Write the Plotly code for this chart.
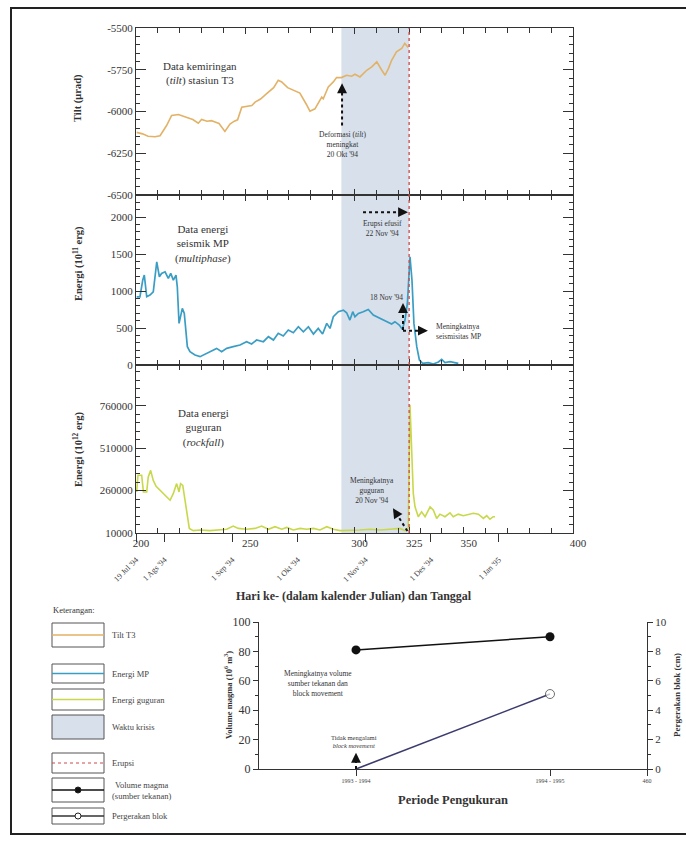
import plotly.graph_objects as go

W, H = 686, 843
FONT = "Liberation Serif"

# ---------------- data ----------------
tilt_day = [200.3, 203, 205.5, 208.7, 211, 214, 216.3, 219.4, 223, 226, 228.5, 230, 232.5, 234.5,
            236.5, 238, 240.7, 243, 245, 246.5, 248.4, 251, 253, 254.5, 257, 259.8, 263, 265.1,
            266.7, 269.4, 272.5, 275, 278, 279.6, 281.9, 285, 285.7, 288, 290.3, 291.8, 294,
            296.4, 298.7, 300.2, 302.5, 305.6, 307.9, 310.2, 312.5, 314, 315.5, 317, 319.2,
            321.6, 323, 324.5]
tilt_val = [-6125, -6134, -6148, -6151, -6145, -6084, -6024, -6018, -6034, -6048, -6070, -6048,
            -6058, -6055, -6064, -6072, -6119, -6075, -6058, -6050, -5974, -5970, -5964, -5944,
            -5925, -5893, -5857, -5813, -5823, -5857, -5873, -5890, -5958, -5998, -5984, -5914,
            -5924, -5853, -5823, -5797, -5797, -5783, -5789, -5777, -5793, -5753, -5733, -5703,
            -5753, -5783, -5743, -5693, -5643, -5623, -5592, -5616]

mp_day = [200.3, 201.8, 203.1, 203.8, 204.9, 206.4, 207.9, 209.5, 210.7, 211.7, 213.3, 214.8,
          215.9, 217.1, 218.3, 218.9, 219.7, 220.4, 221.2, 222.1, 223.5, 224.7, 227, 229.3,
          232.3, 234.6, 236.9, 239.2, 241.5, 244.5, 247.6, 250.6, 252.9, 255.2, 258.3, 260.6,
          262.9, 265.1, 267.4, 269.7, 272, 274.3, 276.6, 278.9, 281.2, 283.4, 285.4, 287.3,
          288.8, 290.3, 292.6, 294.9, 296.4, 297.9, 299.2, 300.2, 301.8, 304, 306.3, 308.6,
          311.7, 314.7, 317, 318.5, 320.5, 321.9, 323.1, 324.2, 325.4, 326.3, 327.2, 328.5,
          329.7, 331.2, 333.8, 336.1, 338.4, 339.9, 341.4, 343.7, 345.5, 347.5]
mp_val = [923, 923, 1149, 1216, 923, 946, 991, 1396, 1194, 1239, 1261, 1171,
          1239, 1149, 1216, 1058, 563, 653, 766, 698, 248, 180, 135, 113,
          158, 194, 225, 180, 225, 248, 270, 315, 284, 338, 315, 383,
          338, 428, 392, 473, 437, 518, 450, 518, 419, 495, 419, 563,
          495, 653, 721, 743, 707, 608, 721, 653, 698, 721, 752, 676,
          631, 586, 554, 586, 541, 482, 608, 833, 1464, 1149, 563, 248,
          68, 23, 32, 14, 41, 77, 32, 45, 32, 23]

rf_day = [200.3, 200.9, 202.6, 203.4, 204.9, 205.6, 206.7, 207.9, 209.2, 211, 213.3, 215.6,
          217.1, 218.6, 219.7, 220.4, 221.4, 222.4, 223.5, 224.4, 226.2, 229.3, 233.9, 238.4,
          241.5, 244.5, 246.8, 250.6, 254.5, 257.5, 260.6, 263.6, 266.7, 269, 272, 275.1,
          278.1, 281.2, 284.2, 287.3, 290.3, 293.4, 297.9, 302.5, 307.1, 311.7, 316.2, 320.8,
          323.1, 324.6, 325.4, 326.2, 326.9, 327.7, 329.2, 330.7, 332.3, 334.6, 336.1, 337.6,
          339.1, 341.4, 343.7, 345.2, 347.5, 349.8, 352.1, 354.4, 356.7, 359, 360.5, 362,
          363.5, 364.3]
rf_val = [252000, 350000, 350000, 252000, 252000, 340000, 379000, 320000, 285000, 262000,
          233000, 203000, 243000, 301000, 252000, 301000, 291000, 203000, 106000, 37000,
          24000, 28000, 24000, 28000, 32000, 51000, 37000, 32000, 37000, 51000, 32000, 47000,
          32000, 43000, 28000, 37000, 32000, 37000, 28000, 47000, 32000, 24000, 24000, 28000,
          32000, 28000, 32000, 37000, 24000, 37000, 765000, 438000, 243000, 164000, 106000,
          135000, 106000, 164000, 145000, 96000, 121000, 106000, 129000, 106000, 121000,
          112000, 117000, 126000, 121000, 96000, 112000, 91000, 106000, 106000]

crisis_start = 294   # 20 Okt '94
eruption_day = 325   # 22 Nov '94

x_tickvals = [200, 250, 300, 325, 350, 400]
x_ticktext = ["200", "250", "300", "325", "350", "400"]
date_days = [200, 213, 244, 274, 305, 335, 366]
date_labels = ["19 Jul '94", "1 Ags '94", "1 Sep '94", "1 Okt '94", "1 Nov '94", "1 Des '94", "1 Jan '95"]
tilt_ticks = [-6500, -6250, -6000, -5750, -5500]
tilt_ticktext = ["-6500", "-6250", "-6000", "-5750", "-5500"]
mp_ticks = [0, 500, 1000, 1500, 2000]
mp_ticktext = ["0", "500", "1000", "1500", "2000"]
rf_ticks = [10000, 260000, 510000, 760000]
rf_ticktext = ["10000", "260000", "510000", "760000"]

period_x = [1, 2]
period_tickvals = [1, 2, 2.5]
period_ticktext = ["1993 - 1994", "1994 - 1995", "460"]
volume_magma = [81, 90]
pergerakan_blok = [0, 5.1]
vol_ticks = [0, 20, 40, 60, 80, 100]
blok_ticks = [0, 2, 4, 6, 8, 10]

C_TILT = "#E2B266"
C_MP = "#3A9EC4"
C_RF = "#C9D84A"
C_SHADE = "#D7E0EB"
C_ERUP = "#D04848"
C_BLOK = "#3B3B6E"


def px(p):
    return p / W


def py(p):
    return 1 - p / H


fig = go.Figure()
fig.add_trace(go.Scatter(x=tilt_day, y=tilt_val, mode="lines", line=dict(color=C_TILT, width=1.6),
                         xaxis="x", yaxis="y", showlegend=False))
fig.add_trace(go.Scatter(x=mp_day, y=mp_val, mode="lines", line=dict(color=C_MP, width=1.7),
                         xaxis="x2", yaxis="y2", showlegend=False))
fig.add_trace(go.Scatter(x=rf_day, y=rf_val, mode="lines", line=dict(color=C_RF, width=1.6),
                         xaxis="x3", yaxis="y3", showlegend=False))
fig.add_trace(go.Scatter(x=date_days, y=[None] * len(date_days), mode="lines",
                         xaxis="x4", yaxis="y3", showlegend=False, hoverinfo="skip"))
fig.add_trace(go.Scatter(x=period_x, y=volume_magma, mode="lines+markers",
                         line=dict(color="#111", width=1.6),
                         marker=dict(color="#111", size=9),
                         xaxis="x5", yaxis="y4", showlegend=False))
fig.add_trace(go.Scatter(x=period_x, y=pergerakan_blok, mode="lines+markers",
                         line=dict(color=C_BLOK, width=1.6),
                         marker=dict(color="white", size=[0, 9], line=dict(color="#333", width=1)),
                         xaxis="x5", yaxis="y5", showlegend=False))

XDOM = [px(136), px(573)]
DOMS = {"y": [py(195), py(28)], "y2": [py(365), py(195)], "y3": [py(533), py(365)]}
tickfont = dict(family=FONT, size=11, color="#333")

common_x = dict(domain=XDOM, range=[200, 400], showline=True, linecolor="#333", linewidth=1,
                mirror="ticks", ticks="inside", ticklen=6, tickcolor="#333", automargin=False,
                tickvals=x_tickvals, ticktext=x_ticktext, showgrid=False, zeroline=False,
                minor=dict(tick0=200, dtick=10, ticks="inside", ticklen=5, tickcolor="#333"))
common_y = dict(showline=True, linecolor="#333", linewidth=1, mirror="ticks", ticks="inside",
                ticklen=10, tickcolor="#333", showgrid=False, zeroline=False, tickfont=tickfont,
                automargin=False)

fig.update_layout(
    width=W, height=H, autosize=False,
    margin=dict(l=0, r=0, t=0, b=0, pad=0),
    paper_bgcolor="white", plot_bgcolor="rgba(0,0,0,0)",
    font=dict(family=FONT, color="#333"),
    xaxis=dict(common_x, anchor="y", showticklabels=False),
    xaxis2=dict(common_x, anchor="y2", matches="x", showticklabels=False),
    xaxis3=dict(common_x, anchor="y3", matches="x", showticklabels=True, tickfont=tickfont,
                ticklabelshift=5),
    xaxis4=dict(domain=XDOM, range=[200, 400], overlaying="x3", anchor="y3", side="bottom",
                tickvals=date_days, ticktext=date_labels, tickangle=-45, ticks="outside",
                ticklen=8, tickcolor="#333", showline=False, showgrid=False, zeroline=False,
                automargin=False,
                tickfont=dict(family=FONT, size=8, color="#444"), ticklabelstandoff=10),
    yaxis=dict(common_y, domain=DOMS["y"], anchor="x", range=[-6500, -5500],
               tickvals=tilt_ticks, ticktext=tilt_ticktext,
               minor=dict(dtick=50, tick0=-6500, ticks="inside", ticklen=4, tickcolor="#333")),
    yaxis2=dict(common_y, domain=DOMS["y2"], anchor="x2", range=[0, 2300],
                tickvals=mp_ticks, ticktext=mp_ticktext,
                minor=dict(dtick=100, tick0=0, ticks="inside", ticklen=4, tickcolor="#333")),
    yaxis3=dict(common_y, domain=DOMS["y3"], anchor="x3", range=[10000, 1000000],
                tickvals=rf_ticks, ticktext=rf_ticktext,
                minor=dict(dtick=50000, tick0=10000, ticks="inside", ticklen=4, tickcolor="#333")),
    xaxis5=dict(domain=[px(259), px(647)], anchor="y4", range=[0.5, 2.5], automargin=False,
                tickvals=period_tickvals, ticktext=period_ticktext, ticks="outside", ticklen=6,
                tickcolor="#333", showline=True, linecolor="#333", showgrid=False, zeroline=False,
                tickfont=dict(family=FONT, size=6, color="#444")),
    yaxis4=dict(domain=[py(769), py(622)], anchor="x5", range=[0, 100], tickvals=vol_ticks,
                ticks="outside", ticklen=5, tickcolor="#333", showline=True, linecolor="#333",
                showgrid=False, zeroline=False, automargin=False,
                tickfont=dict(family=FONT, size=12, color="#333"),
                minor=dict(dtick=10, ticks="outside", ticklen=3, tickcolor="#333")),
    yaxis5=dict(domain=[py(769), py(622)], anchor="x5", overlaying="y4", side="right",
                range=[0, 10], tickvals=blok_ticks, ticks="outside", ticklen=5, tickcolor="#333",
                showline=True, linecolor="#333", showgrid=False, zeroline=False, automargin=False,
                tickfont=dict(family=FONT, size=11, color="#333"),
                minor=dict(dtick=1, ticks="outside", ticklen=3, tickcolor="#333")),
)

shapes = []
# crisis shading and eruption line across the three panels
shapes.append(dict(type="rect", xref="x", yref="paper", x0=crisis_start, x1=eruption_day,
                   y0=py(533), y1=py(28), fillcolor=C_SHADE, line=dict(width=0), layer="below"))
shapes.append(dict(type="line", xref="x", yref="paper", x0=eruption_day, x1=eruption_day,
                   y0=py(533), y1=py(28), line=dict(color=C_ERUP, width=1.3, dash="dot")))

annotations = []


def dashed_arrow(xr, yr, x0, y0, x1, y1, frac=0.85):
    xm = x0 + (x1 - x0) * frac
    ym = y0 + (y1 - y0) * frac
    shapes.append(dict(type="line", xref=xr, yref=yr, x0=x0, y0=y0, x1=xm, y1=ym,
                       line=dict(color="#111", width=2, dash="dot")))
    annotations.append(dict(xref=xr, yref=yr, x=x1, y=y1, axref=xr, ayref=yr, ax=xm, ay=ym,
                            text="", showarrow=True, arrowhead=2, arrowsize=1.1,
                            arrowwidth=1.8, arrowcolor="#111"))


def txt(xr, yr, x, y, text, size=11, xanchor="center", align="center", color="#333", **kw):
    annotations.append(dict(xref=xr, yref=yr, x=x, y=y, text=text, showarrow=False,
                            xanchor=xanchor, yanchor="middle", align=align,
                            font=dict(family=FONT, size=size, color=color), **kw))


# panel titles
txt("x", "y", 229.5, -5770, "Data kemiringan<br>(<i>tilt</i>) stasiun T3", size=11)
txt("x2", "y2", 230.7, 1640, "Data energi<br>seismik MP<br>(<i>multiphase</i>)", size=11)
txt("x3", "y3", 230.7, 631000, "Data energi<br>guguran<br>(<i>rockfall</i>)", size=11)

# event annotations
dashed_arrow("x", "y", 294.3, -6084, 294.3, -5831)
txt("x", "y", 294.3, -6199, "Deformasi (<i>tilt</i>)<br>meningkat<br>20 Okt '94", size=7.5)

dashed_arrow("x2", "y2", 303.9, 2068, 324.5, 2068)
txt("x2", "y2", 313, 1851, "Erupsi efusif<br>22 Nov '94", size=7.5)
dashed_arrow("x2", "y2", 322.2, 473, 322.2, 838, frac=0.75)
dashed_arrow("x2", "y2", 322.2, 465, 333.6, 465, frac=0.6)
txt("x2", "y2", 323.2, 919, "18 Nov '94", size=7.5, xanchor="right")
txt("x2", "y2", 336.2, 455, "Meningkatnya<br>seismisitas MP", size=7.5, xanchor="left", align="left")

dashed_arrow("x3", "y3", 324.2, 22000, 317.6, 156000, frac=0.6)
txt("x3", "y3", 308, 262000, "Meningkatnya<br>guguran<br>20 Nov '94", size=7.5)

# axis titles
txt("paper", "paper", px(78), py(98), "<b>Tilt (μrad)</b>", size=10.5, textangle=-90)
txt("paper", "paper", px(78), py(264), "<b>Energi (10<sup>11</sup> erg)</b>", size=10.5, textangle=-90)
txt("paper", "paper", px(78), py(450), "<b>Energi (10<sup>12</sup> erg)</b>", size=10.5, textangle=-90)
txt("paper", "paper", px(354), py(596), "<b>Hari ke- (dalam kalender Julian) dan Tanggal</b>", size=12)

# lower chart texts
txt("x5", "y4", 0.805, 58.5, "Meningkatnya volume<br>sumber tekanan dan<br>block movement", size=7.5)
txt("x5", "y4", 0.99, 19, "Tidak mengalami<br><i>block movement</i>", size=6.5)
dashed_arrow("x5", "y4", 1, 0, 1, 11, frac=0.5)
txt("paper", "paper", px(228), py(695), "<b>Volume magma (10<sup>6</sup> m<sup>3</sup>)</b>", size=8.5, textangle=-90)
txt("paper", "paper", px(677), py(695), "<b>Pergerakan blok (cm)</b>", size=9, textangle=-90)
txt("paper", "paper", px(453), py(800), "<b>Periode Pengukuran</b>", size=12.5)

# legend (Keterangan)
LX0, LX1, LTX = 52, 104, 110
txt("paper", "paper", px(LX0 - 1), py(610), "Keterangan:", size=8.5, xanchor="left", align="left")
legend_items = [
    ("Tilt T3", "line", C_TILT, 623, 647),
    ("Energi MP", "line", C_MP, 664, 683),
    ("Energi guguran", "line", C_RF, 689, 710),
    ("Waktu krisis", "fill", C_SHADE, 715, 739),
    ("Erupsi", "dot", C_ERUP, 753, 773),
    ("Volume magma<br>(sumber tekanan)", "full", "#111", 778, 802),
    ("Pergerakan blok", "open", "#333", 808, 824),
]
for label, kind, col, t, b in legend_items:
    cy = (t + b) / 2
    shapes.append(dict(type="rect", xref="paper", yref="paper", x0=px(LX0), x1=px(LX1),
                       y0=py(b), y1=py(t), line=dict(color="#555", width=1),
                       fillcolor=C_SHADE if kind == "fill" else "rgba(0,0,0,0)"))
    if kind in ("line", "full", "open", "dot"):
        shapes.append(dict(type="line", xref="paper", yref="paper", x0=px(LX0), x1=px(LX1),
                           y0=py(cy), y1=py(cy),
                           line=dict(color=col, width=1.5 if kind != "dot" else 1,
                                     dash="dot" if kind == "dot" else "solid")))
    if kind in ("full", "open"):
        r = 3
        mx = (LX0 + LX1) / 2
        shapes.append(dict(type="circle", xref="paper", yref="paper", x0=px(mx - r), x1=px(mx + r),
                           y0=py(cy + r), y1=py(cy - r), line=dict(color="#222", width=1),
                           fillcolor="#111" if kind == "full" else "white"))
    txt("paper", "paper", px(LTX), py(cy), label, size=8.5, xanchor="left",
        align="center" if "<br>" in label else "left", color="#444")

# outer frame
shapes.append(dict(type="rect", xref="paper", yref="paper", x0=px(11), x1=1.02, y0=py(834),
                   y1=py(8), line=dict(color="#222", width=2), fillcolor="rgba(0,0,0,0)"))

fig.update_layout(shapes=shapes, annotations=annotations)
fig.write_html(
    "out.html",
    config={"displayModeBar": False},
    post_script="document.documentElement.style.margin='0';document.body.style.margin='0';"
                "document.body.style.overflow='hidden';",
)
